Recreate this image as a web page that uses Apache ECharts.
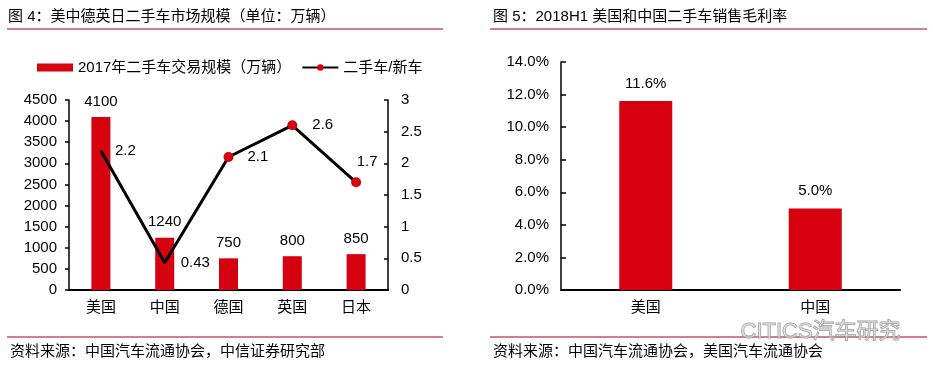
<!DOCTYPE html>
<html>
<head>
<meta charset="utf-8">
<script src="https://cdn.jsdelivr.net/npm/echarts@6/dist/echarts.min.js"></script>
<style>
  html, body { margin: 0; padding: 0; background: #fff; }
  #main { width: 933px; height: 375px; }
</style>
</head>
<body>
<div id="main"></div>
<script>
// 图4 数据
const countries = ["美国", "中国", "德国", "英国", "日本"];
const tradeVolume = [4100, 1240, 750, 800, 850]; // 2017年二手车交易规模（万辆）
const usedNewRatio = [2.2, 0.43, 2.1, 2.6, 1.7]; // 二手车/新车
// 图5 数据
const marginCountries = ["美国", "中国"];
const grossMargin = [11.6, 5.0]; // %

const FONT = '"Liberation Sans", "Noto Sans CJK SC", sans-serif';
const RED = "#D7000F";
const txt = { color: "#000", fontSize: 15, fontFamily: FONT };

let chartDom = document.getElementById("main");
let myChart = echarts.init(chartDom);

// 折线标签位置
const ratioLabels = [
  { position: "right", distance: 14 },
  { position: "right", distance: 16 },
  { position: "right", distance: 14 },
  { position: "right", distance: 15 },
  { position: "top", distance: 8, offset: [11, 0] },
];

let option = {
  backgroundColor: "#fff",
  animation: false,
  textStyle: { fontFamily: FONT },
  legend: {
    left: 32,
    top: 55,
    itemWidth: 36,
    itemHeight: 8,
    itemGap: 10,
    textStyle: txt,
    data: [
      { name: "2017年二手车交易规模（万辆）", icon: "rect" },
      { name: "二手车/新车" },
    ],
  },
  grid: [
    { left: 69, top: 100, width: 319, height: 190 },
    { left: 561, top: 62, width: 339, height: 228 },
  ],
  xAxis: [
    {
      gridIndex: 0,
      type: "category",
      data: countries,
      axisLine: { lineStyle: { color: "#000", width: 2 } },
      axisTick: { show: false },
      axisLabel: Object.assign({ margin: 10 }, txt),
    },
    {
      gridIndex: 1,
      type: "category",
      data: marginCountries,
      axisLine: { lineStyle: { color: "#000", width: 2 } },
      axisTick: { show: false },
      axisLabel: Object.assign({ margin: 10 }, txt),
    },
  ],
  yAxis: [
    {
      gridIndex: 0,
      type: "value",
      min: 0,
      max: 4500,
      interval: 500,
      axisLine: { show: true, lineStyle: { color: "#000", width: 1.5 } },
      axisTick: { show: true, length: 4, lineStyle: { color: "#000", width: 1.5 } },
      splitLine: { show: false },
      axisLabel: Object.assign({ margin: 12, formatter: (v) => String(v) }, txt),
    },
    {
      gridIndex: 0,
      type: "value",
      position: "right",
      min: 0,
      max: 3,
      interval: 0.5,
      axisLine: { show: true, lineStyle: { color: "#000", width: 1.5 } },
      axisTick: { show: true, inside: true, length: 4, lineStyle: { color: "#000", width: 1.5 } },
      splitLine: { show: false },
      axisLabel: Object.assign({ margin: 13 }, txt),
    },
    {
      gridIndex: 1,
      type: "value",
      min: 0,
      max: 14,
      interval: 2,
      axisLine: { show: true, lineStyle: { color: "#000", width: 1.5 } },
      axisTick: { show: true, inside: true, length: 5, lineStyle: { color: "#000", width: 1.5 } },
      splitLine: { show: false },
      axisLabel: Object.assign({ margin: 12, formatter: (v) => v.toFixed(1) + "%" }, txt),
    },
  ],
  series: [
    {
      name: "2017年二手车交易规模（万辆）",
      type: "bar",
      xAxisIndex: 0,
      yAxisIndex: 0,
      barWidth: 19,
      itemStyle: { color: RED },
      label: Object.assign({ show: true, position: "top", distance: 8 }, txt),
      data: tradeVolume,
      z: 2,
    },
    {
      name: "二手车/新车",
      type: "line",
      xAxisIndex: 0,
      yAxisIndex: 1,
      symbol: "circle",
      symbolSize: 10,
      lineStyle: { color: "#000", width: 3 },
      itemStyle: { color: RED },
      label: Object.assign({ show: true }, txt),
      data: usedNewRatio.map((v, i) => ({
        value: v,
        symbolSize: i < 2 ? 0 : 10,
        label: ratioLabels[i],
      })),
      z: 3,
    },
    {
      name: "毛利率",
      type: "bar",
      xAxisIndex: 1,
      yAxisIndex: 2,
      barWidth: 53,
      itemStyle: { color: RED },
      label: Object.assign(
        { show: true, position: "top", distance: 10, formatter: (p) => p.value.toFixed(1) + "%" },
        txt
      ),
      data: grossMargin,
    },
  ],
  graphic: [
    // 标题
    { type: "text", left: 8, top: 9, style: { text: "图 4：美中德英日二手车市场规模（单位：万辆）", fill: "#000", font: "15px " + FONT } },
    { type: "text", left: 493, top: 9, style: { text: "图 5：2018H1 美国和中国二手车销售毛利率", fill: "#000", font: "15px " + FONT } },
    { type: "line", shape: { x1: 7, y1: 29, x2: 443, y2: 29 }, style: { stroke: "#A5001A", lineWidth: 1 } },
    { type: "line", shape: { x1: 490, y1: 29, x2: 927, y2: 29 }, style: { stroke: "#A5001A", lineWidth: 1 } },
    // 底部
    { type: "line", shape: { x1: 7, y1: 337, x2: 443, y2: 337 }, style: { stroke: "#A5001A", lineWidth: 1 } },
    { type: "line", shape: { x1: 490, y1: 337, x2: 927, y2: 337 }, style: { stroke: "#A5001A", lineWidth: 1 } },
    { type: "text", left: 10, top: 344, style: { text: "资料来源：中国汽车流通协会，中信证券研究部", fill: "#000", font: "15px " + FONT } },
    { type: "text", left: 493, top: 344, style: { text: "资料来源：中国汽车流通协会，美国汽车流通协会", fill: "#000", font: "15px " + FONT } },
    // 水印
    {
      type: "text",
      left: 740,
      top: 320,
      z: 100,
      style: { text: "CITICS汽车研究", fill: "rgba(220,220,220,0.6)", stroke: "#999", lineWidth: 1, font: "22px " + FONT },
    },
  ],
};

option && myChart.setOption(option);
</script>
</body>
</html>
